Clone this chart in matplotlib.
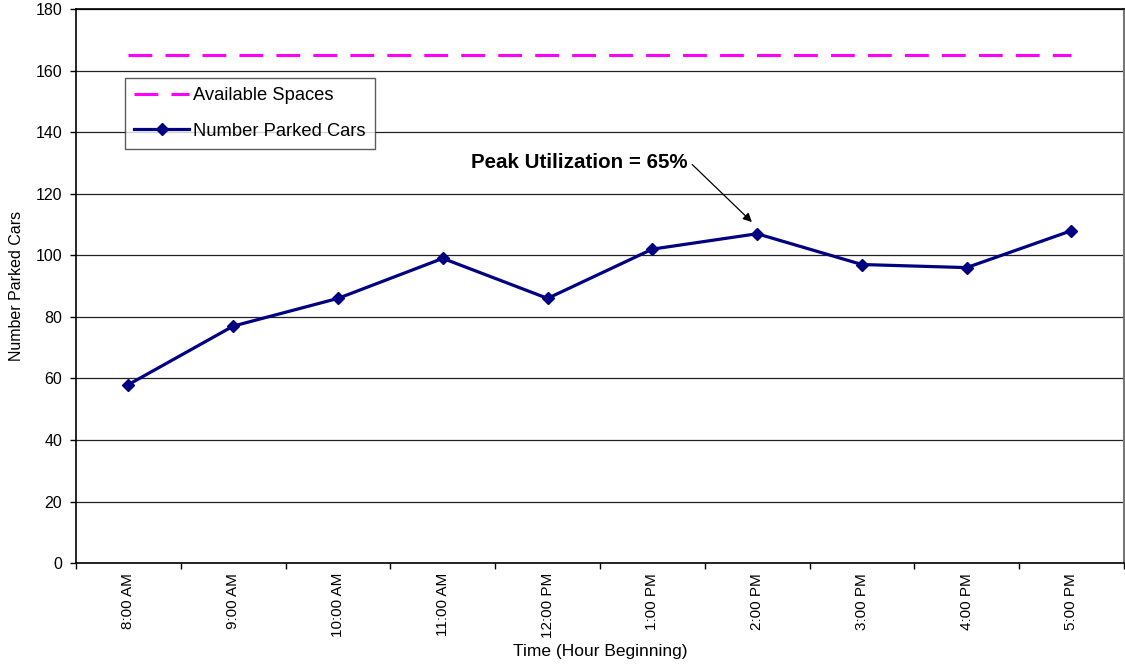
import numpy as np
import matplotlib.pyplot as plt

plt.rcParams['font.family'] = ['Liberation Sans', 'DejaVu Sans']

# chart data
hours = ['8:00 AM', '9:00 AM', '10:00 AM', '11:00 AM', '12:00 PM',
         '1:00 PM', '2:00 PM', '3:00 PM', '4:00 PM', '5:00 PM']
parked = [58, 77, 86, 99, 86, 102, 107, 97, 96, 108]
available = [165] * len(hours)
yticks = [0, 20, 40, 60, 80, 100, 120, 140, 160, 180]

x = np.arange(len(hours))

fig = plt.figure(figsize=(11.25, 6.68), dpi=100)
ax = fig.add_axes([0.0676, 0.157, 0.9314, 0.8295])

ax.plot(x, available, color='#FF00FF', lw=2.2, dashes=(7.8, 4.3),
        label='Available Spaces', zorder=3)
ax.plot(x, parked, color='#000080', lw=2.3, marker='D', ms=6.3,
        label='Number Parked Cars', zorder=4)

ax.set_xlim(-0.5, len(hours) - 0.5)
ax.set_ylim(0, 180)
ax.set_yticks(yticks)
ax.grid(axis='y', color='#222222', lw=0.9)
ax.set_axisbelow(True)

ax.set_xticks(x)
ax.set_xticklabels(hours, rotation=90, fontsize=11)
ax.set_xticks(np.arange(len(hours) + 1) - 0.5, minor=True)
ax.tick_params(axis='x', which='major', length=0, pad=7)
ax.tick_params(axis='x', which='minor', length=4, width=1)
ax.tick_params(axis='y', length=4, width=1, labelsize=11.5, pad=6)

for s in ['left', 'bottom', 'top']:
    ax.spines[s].set_linewidth(1.2)
    ax.spines[s].set_color('black')
ax.spines['right'].set_color('#777777')
ax.spines['right'].set_linewidth(1.5)

ax.set_ylabel('Number Parked Cars', fontsize=11.5, labelpad=8)
ax.set_xlabel('Time (Hour Beginning)', fontsize=12.5, labelpad=4)

leg = ax.legend(loc='upper left', bbox_to_anchor=(0.0468, 0.875), fontsize=13.2,
                frameon=True, fancybox=False, edgecolor='#333333',
                handlelength=3.0, borderpad=0.5, labelspacing=1.0,
                handletextpad=0.2, borderaxespad=0)
leg.get_frame().set_linewidth(1.0)

ax.text(5.34, 130, 'Peak Utilization = 65%', fontsize=14.8, fontweight='bold',
        ha='right', va='center')
ax.annotate('', xy=(5.95, 110.8), xytext=(5.38, 129.5),
            arrowprops=dict(arrowstyle='-|>', color='black', lw=0.9,
                            mutation_scale=13, shrinkA=0, shrinkB=0))

plt.savefig('out.png', dpi=100)
